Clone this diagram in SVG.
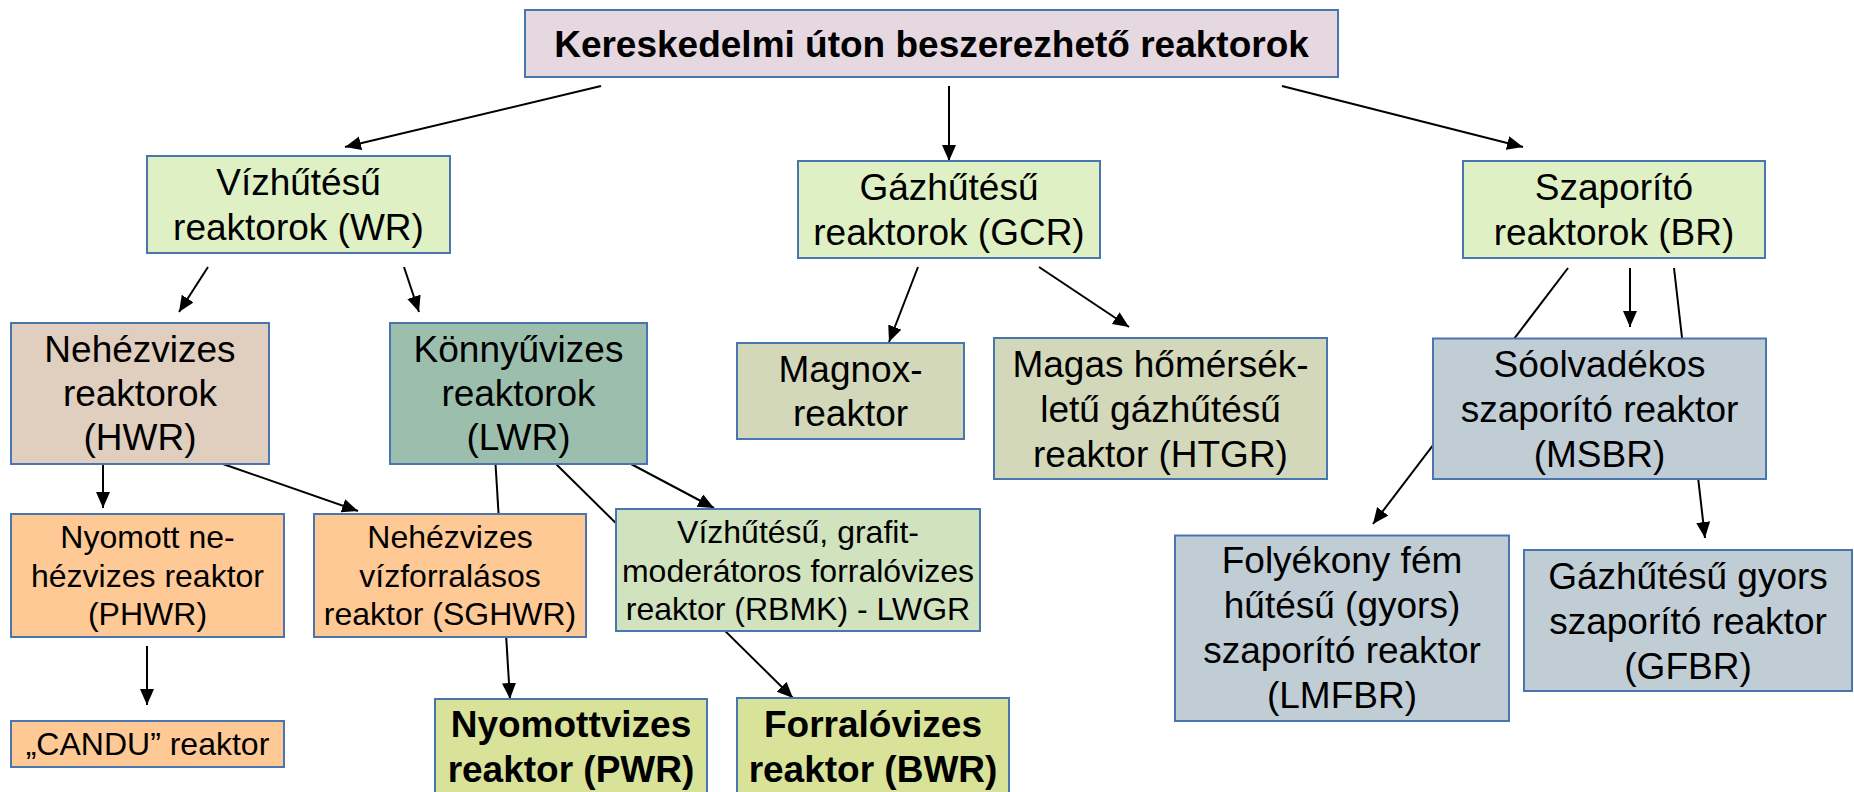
<svg xmlns="http://www.w3.org/2000/svg" width="1854" height="792" viewBox="0 0 1854 792">
<style>
rect{stroke:#4A76B0;stroke-width:2}
text{font-family:"Liberation Sans",Arial,sans-serif;font-size:37px;fill:#000;text-anchor:middle}
.s{font-size:32px}
.b{font-weight:bold}
.c line{stroke:#000;stroke-width:2;marker-end:url(#ah)}
.top{fill:#E6D8E0}.lg{fill:#DFF1C4}.hw{fill:#E0CEBE}.lw{fill:#9CBFAD}.pe{fill:#FFC995}.rb{fill:#D1E2BF}.gc{fill:#D4D8BB}.yg{fill:#D8E299}.bl{fill:#C1CDD5}
</style>
<defs>
<marker id="ah" markerUnits="userSpaceOnUse" markerWidth="17" markerHeight="15" refX="16" refY="7" orient="auto"><path d="M0,0 L16,7 L0,14 z" fill="#000"/></marker>
</defs>
<g class="c" id="connectors">
<line x1="601" y1="86" x2="345" y2="147"/>
<line x1="949" y1="86" x2="949" y2="161"/>
<line x1="1282" y1="86" x2="1523" y2="147"/>
<line x1="208" y1="267" x2="179" y2="312"/>
<line x1="404" y1="267" x2="419" y2="312"/>
<line x1="918" y1="267" x2="889" y2="342"/>
<line x1="1039" y1="267" x2="1129" y2="327"/>
<line x1="1568" y1="268" x2="1373" y2="524"/>
<line x1="1630" y1="268" x2="1630" y2="327"/>
<line x1="1674" y1="268" x2="1705" y2="538"/>
<line x1="103" y1="464" x2="103" y2="508"/>
<line x1="223" y1="464" x2="358" y2="511"/>
<line x1="147" y1="646" x2="147" y2="705"/>
<line x1="495.5" y1="464" x2="510" y2="699"/>
<line x1="556" y1="464" x2="793" y2="698"/>
<line x1="631" y1="464" x2="714" y2="508"/>
</g>
<g id="n-top"><rect class="top" x="525" y="10" width="813" height="67"/><text class="b" x="931.5" y="57">Kereskedelmi úton beszerezhető reaktorok</text></g>
<g id="n-wr"><rect class="lg" x="147" y="156" width="303" height="97"/><text x="298.5" y="195">Vízhűtésű</text><text x="298.5" y="240">reaktorok (WR)</text></g>
<g id="n-gcr"><rect class="lg" x="798" y="161" width="302" height="97"/><text x="949" y="200">Gázhűtésű</text><text x="949" y="245">reaktorok (GCR)</text></g>
<g id="n-br"><rect class="lg" x="1463" y="161" width="302" height="97"/><text x="1614" y="200">Szaporító</text><text x="1614" y="245">reaktorok (BR)</text></g>
<g id="n-hwr"><rect class="hw" x="11" y="323" width="258" height="141"/><text x="140" y="362">Nehézvizes</text><text x="140" y="406">reaktorok</text><text x="140" y="450">(HWR)</text></g>
<g id="n-lwr"><rect class="lw" x="390" y="323" width="257" height="141"/><text x="518.5" y="362">Könnyűvizes</text><text x="518.5" y="406">reaktorok</text><text x="518.5" y="450">(LWR)</text></g>
<g id="n-magnox"><rect class="gc" x="737" y="343" width="227" height="96"/><text x="850.5" y="382">Magnox-</text><text x="850.5" y="426">reaktor</text></g>
<g id="n-htgr"><rect class="gc" x="994" y="338" width="333" height="141"/><text x="1160.5" y="377">Magas hőmérsék-</text><text x="1160.5" y="422">letű gázhűtésű</text><text x="1160.5" y="467">reaktor (HTGR)</text></g>
<g id="n-msbr"><rect class="bl" x="1433" y="338.5" width="333" height="140.5"/><text x="1599.5" y="377">Sóolvadékos</text><text x="1599.5" y="422">szaporító reaktor</text><text x="1599.5" y="467">(MSBR)</text></g>
<g id="n-phwr"><rect class="pe" x="11" y="514" width="273" height="123"/><text class="s" x="147.5" y="548">Nyomott ne-</text><text class="s" x="147.5" y="587">hézvizes reaktor</text><text class="s" x="147.5" y="625">(PHWR)</text></g>
<g id="n-sghwr"><rect class="pe" x="314" y="514" width="272" height="123"/><text class="s" x="450" y="548">Nehézvizes</text><text class="s" x="450" y="587">vízforralásos</text><text class="s" x="450" y="625">reaktor (SGHWR)</text></g>
<g id="n-rbmk"><rect class="rb" x="616" y="509" width="364" height="122"/><text class="s" x="798" y="543">Vízhűtésű, grafit-</text><text class="s" x="798" y="582">moderátoros forralóvizes</text><text class="s" x="798" y="620">reaktor (RBMK) - LWGR</text></g>
<g id="n-candu"><rect class="pe" x="11" y="721" width="273" height="46"/><text class="s" x="147.5" y="755">„CANDU” reaktor</text></g>
<g id="n-pwr"><rect class="yg" x="435" y="699" width="272" height="100"/><text class="b" x="571" y="737">Nyomottvizes</text><text class="b" x="571" y="782">reaktor (PWR)</text></g>
<g id="n-bwr"><rect class="yg" x="737" y="698" width="272" height="100"/><text class="b" x="873" y="737">Forralóvizes</text><text class="b" x="873" y="782">reaktor (BWR)</text></g>
<g id="n-lmfbr"><rect class="bl" x="1175" y="535.5" width="334" height="185.5"/><text x="1342" y="573">Folyékony fém</text><text x="1342" y="618">hűtésű (gyors)</text><text x="1342" y="663">szaporító reaktor</text><text x="1342" y="708">(LMFBR)</text></g>
<g id="n-gfbr"><rect class="bl" x="1524" y="550" width="328" height="141"/><text x="1688" y="589">Gázhűtésű gyors</text><text x="1688" y="634">szaporító reaktor</text><text x="1688" y="679">(GFBR)</text></g>
</svg>
